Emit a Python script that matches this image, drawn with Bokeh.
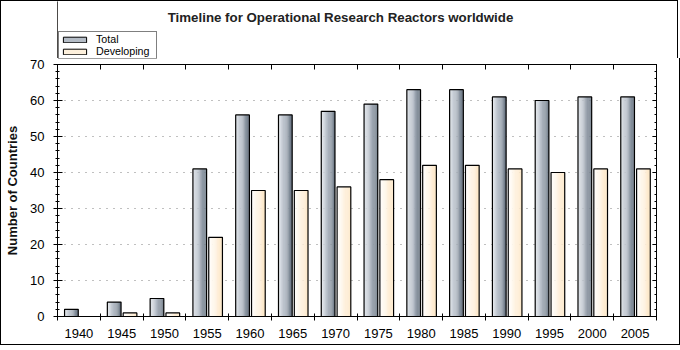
from bokeh.plotting import figure
from bokeh.layouts import column
from bokeh.models import (FixedTicker, SingleIntervalTicker, LinearAxis, Range1d,
                          Legend, LegendItem, Label, Grid)
from bokeh.embed import file_html
from bokeh.resources import INLINE

years = ["1940", "1945", "1950", "1955", "1960", "1965", "1970",
         "1975", "1980", "1985", "1990", "1995", "2000", "2005"]
total = [2, 4, 5, 41, 56, 56, 57, 59, 63, 63, 61, 60, 61, 61]
developing = [0, 1, 1, 22, 35, 35, 36, 38, 42, 42, 41, 40, 41, 41]

title_text = "Timeline for Operational Research Reactors worldwide"
y_label = "Number of Countries"
series_names = ["Total", "Developing"]

FONT = "Liberation Sans"
n = len(years)
centers = [i + 0.5 for i in range(n)]

# ---------------- header (title + legend) ----------------
head = figure(width=678, height=58, x_range=Range1d(0, 1), y_range=Range1d(0, 1),
              toolbar_location=None, output_backend="svg",
              min_border=0, x_axis_type=None, y_axis_type=None)
head.outline_line_color = None
head.xgrid.visible = False
head.ygrid.visible = False
head.background_fill_color = "white"
head.border_fill_color = "white"
head.styles = {"border-top": "1px solid black", "border-left": "1px solid black",
               "border-right": "1px solid black"}

W = 0.32
# legend proxies placed outside the visible range
r_tot = head.vbar(x=[-10], top=[1], width=W, fill_color="#b4bcc6", line_color="black",
                  line_width=1)
r_dev = head.vbar(x=[-10], top=[1], width=W, fill_color="#fdf0dc", line_color="black",
                  line_width=1)

legend = Legend(items=[LegendItem(label=series_names[0], renderers=[r_tot]),
                       LegendItem(label=series_names[1], renderers=[r_dev])],
                location=(1, 0))
legend.border_line_color = "black"
legend.border_line_width = 1
legend.background_fill_color = "white"
legend.background_fill_alpha = 1
legend.padding = 1
legend.spacing = 0
legend.margin = 0
legend.glyph_width = 29
legend.glyph_height = 7
legend.label_height = 12
legend.label_width = 59
legend.label_standoff = 7
legend.label_text_font = FONT
legend.label_text_font_size = "10.7px"
legend.label_text_color = "black"
head.add_layout(legend, "center")

head.add_layout(Label(x=283, y=58 - 16, x_units="screen", y_units="screen",
                      text=title_text, text_align="center", text_baseline="middle",
                      text_font=FONT, text_font_size="13.3px", text_font_style="bold",
                      text_color="#222222"))

# ---------------- main chart ----------------
p = figure(frame_width=597, frame_height=251,
           x_range=Range1d(0, n), y_range=Range1d(0, 70),
           toolbar_location=None, output_backend="svg",
           min_border_left=56, min_border_right=25,
           min_border_top=6, min_border_bottom=29,
           x_axis_type=None, y_axis_type=None)
p.styles = {"border-bottom": "1px solid black", "border-left": "1px solid black",
            "border-right": "1px solid black"}
p.outline_line_color = "black"
p.outline_line_width = 1
p.background_fill_color = "white"
p.border_fill_color = "white"

xt = FixedTicker(ticks=centers, minor_ticks=list(range(n + 1)))
yt = SingleIntervalTicker(interval=10, num_minor_ticks=5)

xb = LinearAxis(ticker=xt)
xb.major_label_overrides = {c: y for c, y in zip(centers, years)}
xb.major_tick_in = 0
xb.major_tick_out = 0
xb.minor_tick_in = 3
xb.minor_tick_out = 4
xb.major_label_standoff = 8
xb.major_label_text_font = FONT
xb.major_label_text_font_size = "13px"
xb.major_label_text_color = "black"
xb.axis_line_color = "black"
p.add_layout(xb, "below")

xa = LinearAxis(ticker=xt)
xa.major_label_text_color = None
xa.major_label_text_font_size = "1px"
xa.major_label_standoff = 0
xa.major_tick_in = 0
xa.major_tick_out = 0
xa.minor_tick_in = 5
xa.minor_tick_out = 0
xa.axis_line_color = "black"
p.add_layout(xa, "above")

yl = LinearAxis(ticker=yt)
yl.major_tick_in = 5
yl.major_tick_out = 4
yl.minor_tick_in = 2
yl.minor_tick_out = 2
yl.major_label_standoff = 9
yl.major_label_text_font = FONT
yl.major_label_text_font_size = "13px"
yl.major_label_text_color = "black"
yl.axis_label = y_label
yl.axis_label_text_font = FONT
yl.axis_label_text_font_size = "13px"
yl.axis_label_text_font_style = "bold"
yl.axis_label_text_color = "#111111"
yl.axis_label_standoff = 7
yl.axis_line_color = "black"
p.add_layout(yl, "left")

yr = LinearAxis(ticker=yt)
yr.major_label_text_color = None
yr.major_label_text_font_size = "1px"
yr.major_label_standoff = 0
yr.major_tick_in = 4
yr.major_tick_out = 0
yr.minor_tick_in = 2
yr.minor_tick_out = 0
yr.axis_line_color = "black"
p.add_layout(yr, "right")

g = Grid(dimension=1, ticker=yt)
g.grid_line_color = "#808080"
g.grid_line_dash = "1 6"
g.grid_line_width = 1
p.add_layout(g)

NS = 12

def lerp(c0, c1, t):
    return tuple(int(round(a + (b - a) * t)) for a, b in zip(c0, c1))

def grad(stops, t):
    for (p0, c0), (p1, c1) in zip(stops[:-1], stops[1:]):
        if t <= p1:
            return lerp(c0, c1, (t - p0) / (p1 - p0))
    return stops[-1][1]

total_stops = [(0.0, (228, 232, 237)), (0.45, (180, 188, 198)), (1.0, (100, 112, 126))]
dev_stops = [(0.0, (255, 255, 255)), (1.0, (253, 230, 196))]

def draw_series(vals, offset, stops):
    xs0 = [c + offset for c in centers]
    sw = W / NS
    for k in range(NS):
        t = (k + 0.5) / NS
        col = "#%02x%02x%02x" % grad(stops, t)
        xs = [x - W / 2 + (k + 0.5) * sw for x in xs0]
        p.vbar(x=xs, top=vals, bottom=0, width=sw * 1.15,
               fill_color=col, line_color=None)
    p.vbar(x=xs0, top=vals, bottom=0, width=W,
           fill_color=None, line_color="black", line_width=1.2)

draw_series(total, -0.175, total_stops)
draw_series(developing, 0.195, dev_stops)

layout = column(head, p, spacing=0)

open("out.html", "w").write(file_html(layout, INLINE))
